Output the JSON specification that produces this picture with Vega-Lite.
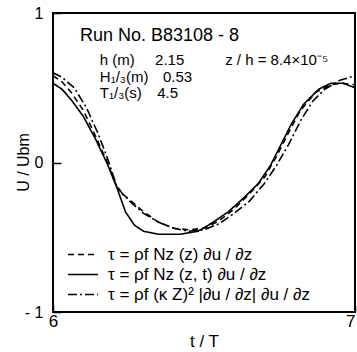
{
  "$schema": "https://vega.github.io/schema/vega-lite/v6.json",
  "width": 302,
  "height": 299,
  "autosize": "none",
  "padding": {"left": 53, "top": 13, "right": 2, "bottom": 40},
  "background": "white",
  "config": {
    "font": "Liberation Sans",
    "view": {"stroke": "black", "strokeWidth": 2},
    "axis": {"grid": false, "domain": false, "ticks": true, "tickColor": "black", "tickWidth": 1.5, "tickOpacity": 1, "labelColor": "black", "titleColor": "black", "labelFont": "Liberation Sans", "titleFont": "Liberation Sans", "titleFontWeight": "normal", "labelOverlap": false, "labelFlush": false, "zindex": 1}
  },
  "datasets": {
    "profiles": [
      {"t": 6.00, "u": 0.58, "model": "dashed"},
      {"t": 6.03, "u": 0.54, "model": "dashed"},
      {"t": 6.06, "u": 0.47, "model": "dashed"},
      {"t": 6.10, "u": 0.35, "model": "dashed"},
      {"t": 6.14, "u": 0.18, "model": "dashed"},
      {"t": 6.18, "u": 0.00, "model": "dashed"},
      {"t": 6.21, "u": -0.16, "model": "dashed"},
      {"t": 6.23, "u": -0.21, "model": "dashed"},
      {"t": 6.26, "u": -0.26, "model": "dashed"},
      {"t": 6.30, "u": -0.33, "model": "dashed"},
      {"t": 6.35, "u": -0.40, "model": "dashed"},
      {"t": 6.40, "u": -0.44, "model": "dashed"},
      {"t": 6.45, "u": -0.45, "model": "dashed"},
      {"t": 6.50, "u": -0.44, "model": "dashed"},
      {"t": 6.55, "u": -0.39, "model": "dashed"},
      {"t": 6.60, "u": -0.31, "model": "dashed"},
      {"t": 6.65, "u": -0.21, "model": "dashed"},
      {"t": 6.70, "u": -0.10, "model": "dashed"},
      {"t": 6.74, "u": 0.04, "model": "dashed"},
      {"t": 6.78, "u": 0.20, "model": "dashed"},
      {"t": 6.82, "u": 0.35, "model": "dashed"},
      {"t": 6.87, "u": 0.47, "model": "dashed"},
      {"t": 6.92, "u": 0.52, "model": "dashed"},
      {"t": 6.96, "u": 0.53, "model": "dashed"},
      {"t": 7.00, "u": 0.52, "model": "dashed"},

      {"t": 6.00, "u": 0.53, "model": "solid"},
      {"t": 6.03, "u": 0.49, "model": "solid"},
      {"t": 6.06, "u": 0.42, "model": "solid"},
      {"t": 6.10, "u": 0.31, "model": "solid"},
      {"t": 6.14, "u": 0.16, "model": "solid"},
      {"t": 6.18, "u": -0.01, "model": "solid"},
      {"t": 6.21, "u": -0.16, "model": "solid"},
      {"t": 6.24, "u": -0.33, "model": "solid"},
      {"t": 6.27, "u": -0.42, "model": "solid"},
      {"t": 6.30, "u": -0.46, "model": "solid"},
      {"t": 6.35, "u": -0.48, "model": "solid"},
      {"t": 6.42, "u": -0.48, "model": "solid"},
      {"t": 6.48, "u": -0.46, "model": "solid"},
      {"t": 6.53, "u": -0.40, "model": "solid"},
      {"t": 6.58, "u": -0.33, "model": "solid"},
      {"t": 6.63, "u": -0.24, "model": "solid"},
      {"t": 6.68, "u": -0.14, "model": "solid"},
      {"t": 6.72, "u": -0.02, "model": "solid"},
      {"t": 6.75, "u": 0.10, "model": "solid"},
      {"t": 6.79, "u": 0.26, "model": "solid"},
      {"t": 6.83, "u": 0.39, "model": "solid"},
      {"t": 6.88, "u": 0.49, "model": "solid"},
      {"t": 6.92, "u": 0.53, "model": "solid"},
      {"t": 6.96, "u": 0.53, "model": "solid"},
      {"t": 7.00, "u": 0.50, "model": "solid"},

      {"t": 6.00, "u": 0.60, "model": "dashdot"},
      {"t": 6.03, "u": 0.57, "model": "dashdot"},
      {"t": 6.07, "u": 0.50, "model": "dashdot"},
      {"t": 6.11, "u": 0.37, "model": "dashdot"},
      {"t": 6.15, "u": 0.19, "model": "dashdot"},
      {"t": 6.18, "u": 0.03, "model": "dashdot"},
      {"t": 6.21, "u": -0.15, "model": "dashdot"},
      {"t": 6.23, "u": -0.21, "model": "dashdot"},
      {"t": 6.26, "u": -0.27, "model": "dashdot"},
      {"t": 6.30, "u": -0.34, "model": "dashdot"},
      {"t": 6.35, "u": -0.40, "model": "dashdot"},
      {"t": 6.40, "u": -0.44, "model": "dashdot"},
      {"t": 6.45, "u": -0.46, "model": "dashdot"},
      {"t": 6.50, "u": -0.45, "model": "dashdot"},
      {"t": 6.55, "u": -0.41, "model": "dashdot"},
      {"t": 6.60, "u": -0.34, "model": "dashdot"},
      {"t": 6.65, "u": -0.26, "model": "dashdot"},
      {"t": 6.70, "u": -0.14, "model": "dashdot"},
      {"t": 6.74, "u": -0.02, "model": "dashdot"},
      {"t": 6.78, "u": 0.12, "model": "dashdot"},
      {"t": 6.82, "u": 0.28, "model": "dashdot"},
      {"t": 6.86, "u": 0.41, "model": "dashdot"},
      {"t": 6.90, "u": 0.49, "model": "dashdot"},
      {"t": 6.95, "u": 0.55, "model": "dashdot"},
      {"t": 7.00, "u": 0.58, "model": "dashdot"}
    ],
    "one": [{}]
  },
  "layer": [
    {
      "data": {"name": "profiles"},
      "mark": {"type": "line", "color": "black", "strokeWidth": 1.6, "clip": true},
      "encoding": {
        "x": {
          "field": "t", "type": "quantitative",
          "scale": {"domain": [6, 7], "nice": false, "zero": false},
          "axis": {
            "tickCount": 2, "format": "d",
            "labelExpr": "datum.value == 6.5 ? '' : datum.label",
            "labelAlign": {"condition": {"test": "datum.value == 7", "value": "right"}, "value": "center"},
            "tickSize": 7, "offset": -7, "labelPadding": 1, "labelFontSize": 17,
            "title": "t / T", "titleFontSize": 17, "titleX": 151, "titleY": 36, "titleBaseline": "middle", "titleAlign": "center"
          }
        },
        "y": {
          "field": "u", "type": "quantitative",
          "scale": {"domain": [-1, 1], "nice": false},
          "axis": {
            "tickCount": 2, "format": "d",
            "labelExpr": "datum.value == -1 ? '- 1' : datum.label",
            "tickSize": 8, "offset": -8, "labelPadding": 10, "labelFontSize": 16,
            "title": "U / Ubm", "titleFontSize": 16, "titleX": -38, "titleY": 149, "titleBaseline": "middle", "titleAlign": "center", "titleAngle": -90
          }
        },
        "strokeDash": {
          "field": "model", "type": "nominal",
          "scale": {"domain": ["dashed", "solid", "dashdot"], "range": [[6, 4], [1, 0], [9, 3, 2, 3]]},
          "legend": {
            "orient": "none", "legendX": 14, "legendY": 234, "title": null,
            "symbolType": "stroke", "symbolSize": 900, "symbolStrokeWidth": 1.6, "symbolStrokeColor": "black",
            "clipHeight": 15, "labelLimit": 320,
            "labelFontSize": 17, "labelColor": "black", "labelOffset": 9, "rowPadding": 2,
            "labelExpr": "datum.value == 'dashed' ? 'τ = ρf Nz (z) ∂u / ∂z' : datum.value == 'solid' ? 'τ = ρf Nz (z, t) ∂u / ∂z' : 'τ = ρf (κ Z)² |∂u / ∂z| ∂u / ∂z'"
          }
        }
      }
    },
    {
      "data": {"name": "one"},
      "mark": {"type": "text", "align": "left", "baseline": "alphabetic", "fontSize": 18, "color": "black"},
      "encoding": {"x": {"datum": 6.089}, "y": {"datum": 0.81}, "text": {"value": "Run No. B83108 - 8"}}
    },
    {
      "data": {"name": "one"},
      "mark": {"type": "text", "align": "left", "baseline": "alphabetic", "fontSize": 15, "color": "black"},
      "encoding": {"x": {"datum": 6.155}, "y": {"datum": 0.65}, "text": {"value": "h (m)"}}
    },
    {
      "data": {"name": "one"},
      "mark": {"type": "text", "align": "left", "baseline": "alphabetic", "fontSize": 15, "color": "black"},
      "encoding": {"x": {"datum": 6.338}, "y": {"datum": 0.65}, "text": {"value": "2.15"}}
    },
    {
      "data": {"name": "one"},
      "mark": {"type": "text", "align": "left", "baseline": "alphabetic", "fontSize": 15, "color": "black"},
      "encoding": {"x": {"datum": 6.57}, "y": {"datum": 0.65}, "text": {"value": "z / h = 8.4×10⁻⁵"}}
    },
    {
      "data": {"name": "one"},
      "mark": {"type": "text", "align": "left", "baseline": "alphabetic", "fontSize": 15, "color": "black"},
      "encoding": {"x": {"datum": 6.155}, "y": {"datum": 0.54}, "text": {"value": "H₁/₃(m)"}}
    },
    {
      "data": {"name": "one"},
      "mark": {"type": "text", "align": "left", "baseline": "alphabetic", "fontSize": 15, "color": "black"},
      "encoding": {"x": {"datum": 6.364}, "y": {"datum": 0.54}, "text": {"value": "0.53"}}
    },
    {
      "data": {"name": "one"},
      "mark": {"type": "text", "align": "left", "baseline": "alphabetic", "fontSize": 15, "color": "black"},
      "encoding": {"x": {"datum": 6.155}, "y": {"datum": 0.43}, "text": {"value": "T₁/₃(s)"}}
    },
    {
      "data": {"name": "one"},
      "mark": {"type": "text", "align": "left", "baseline": "alphabetic", "fontSize": 15, "color": "black"},
      "encoding": {"x": {"datum": 6.345}, "y": {"datum": 0.43}, "text": {"value": "4.5"}}
    }
  ]
}
